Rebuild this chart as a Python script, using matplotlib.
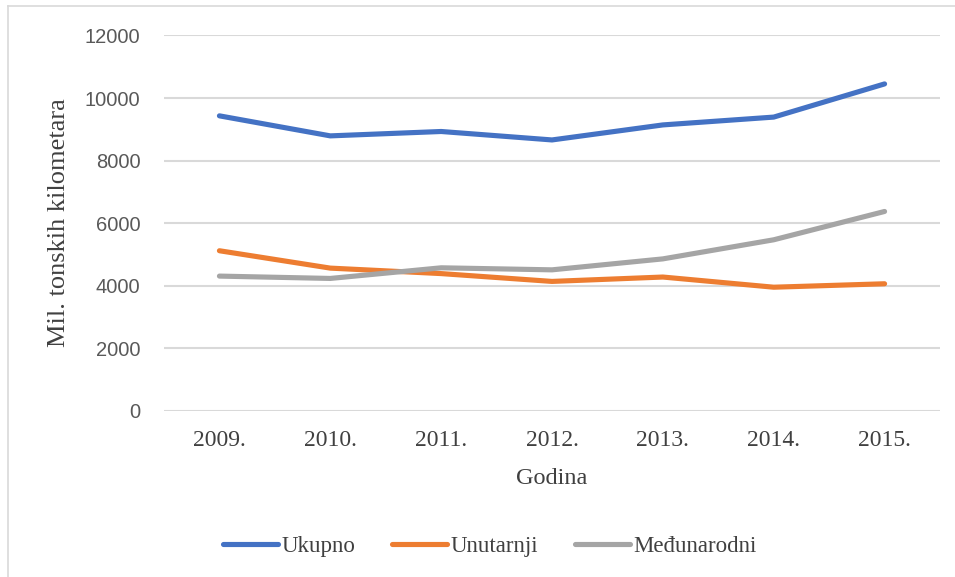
import matplotlib
matplotlib.use("Agg")
import matplotlib.pyplot as plt
from matplotlib.lines import Line2D

years = ["2009.", "2010.", "2011.", "2012.", "2013.", "2014.", "2015."]
ukupno = [9430, 8790, 8930, 8660, 9140, 9390, 10450]
unutarnji = [5120, 4565, 4390, 4140, 4280, 3955, 4065]
medunarodni = [4310, 4235, 4575, 4510, 4860, 5470, 6375]

series_names = ["Ukupno", "Unutarnji", "Međunarodni"]
series_colors = ["#4472C4", "#ED7D31", "#A5A5A5"]

W, H = 955, 577
fig = plt.figure(figsize=(W / 100, H / 100), dpi=100)
ax = fig.add_axes([164 / W, 1 - 411 / H, (940 - 164) / W, (411 - 35.4) / H])

x = list(range(len(years)))
for vals, name, col in zip([ukupno, unutarnji, medunarodni], series_names, series_colors):
    ax.plot(x, vals, color=col, lw=3.7, solid_capstyle="round", solid_joinstyle="round",
            label=name, zorder=3)

ax.set_xlim(-0.5, len(years) - 0.5)
ax.set_ylim(0, 12000)
ax.set_yticks(range(0, 12001, 2000))
ax.set_xticks(x)
ax.set_xticklabels(years, family="Liberation Serif", fontsize=17, color="#404040")
for t in ax.get_yticklabels():
    t.set_family("Liberation Sans")
    t.set_fontsize(14.5)
    t.set_color("#595959")
ax.tick_params(axis="both", length=0)
ax.tick_params(axis="y", pad=17)
ax.tick_params(axis="x", pad=14)
ax.grid(axis="y", color="#D9D9D9", lw=1.5, zorder=0)
for s in ax.spines.values():
    s.set_visible(False)

ax.set_xlabel("Godina", family="Liberation Serif", fontsize=17.5, color="#404040", labelpad=12)
fig.text(59 / W, 1 - 223 / H, "Mil. tonskih kilometara", family="Liberation Serif",
         fontsize=19, color="#404040", rotation=90, ha="center", va="center")

handles = [Line2D([], [], color=c, lw=3.7, solid_capstyle="round") for c in series_colors]
fig.legend(handles, series_names, loc="center", bbox_to_anchor=(490 / W, 1 - 546 / H),
           ncol=3, frameon=False, handlelength=2.4, handletextpad=0.15, columnspacing=1.6,
           prop={"family": "Liberation Serif", "size": 16.5}, labelcolor="#404040")

# outer chart frame (left and top edges)
fig.add_artist(Line2D([8 / W, 8 / W], [0, 1 - 6 / H], color="#D9D9D9", lw=1.2,
                      transform=fig.transFigure))
fig.add_artist(Line2D([8 / W, 1], [1 - 6 / H, 1 - 6 / H], color="#D9D9D9", lw=1.2,
                      transform=fig.transFigure))

fig.savefig("out.png", dpi=100)
